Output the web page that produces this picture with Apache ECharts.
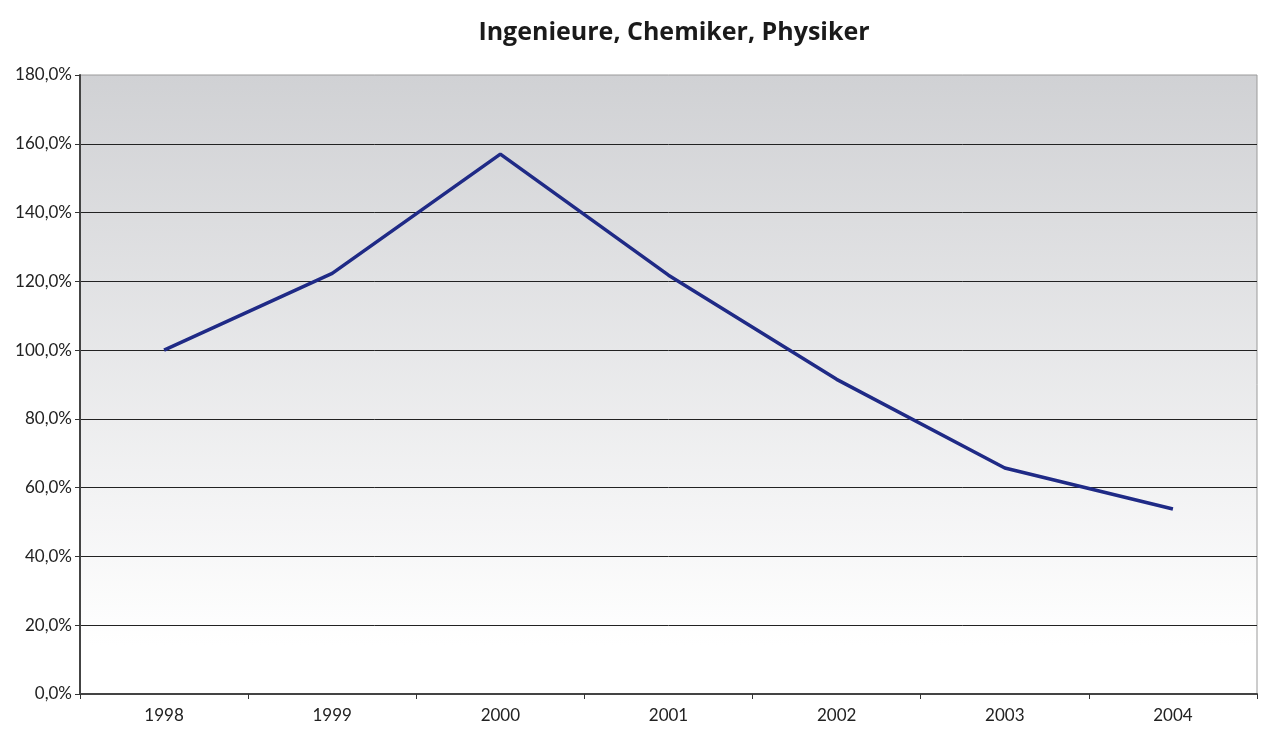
<!DOCTYPE html>
<html>
<head>
<meta charset="utf-8">
<script src="https://cdn.jsdelivr.net/npm/echarts@6/dist/echarts.min.js"></script>
<style>
  html, body { margin: 0; padding: 0; background: #fff; }
  #chart { width: 1261px; height: 731px; }
</style>
</head>
<body>
<div id="chart"></div>
<script>
const years = ['1998', '1999', '2000', '2001', '2002', '2003', '2004']
const values = [100, 122.3, 157.0, 121.8, 91.5, 65.7, 53.8]
const yTicks = [0, 180, 20]  // min, max, interval

let chart = echarts.init(document.getElementById('chart'))
chart.setOption({
    title: {
        text: 'Ingenieure, Chemiker, Physiker',
        left: 669,
        textAlign: 'center',
        top: 15,
        textStyle: {
            fontFamily: 'Open Sans',
            fontWeight: 'bold',
            fontSize: 25,
            color: '#1a1a1a'
        }
    },
    grid: {
        left: 80,
        right: 4,
        top: 75,
        bottom: 37,
        show: true,
        borderColor: '#9a9a9a',
        borderWidth: 1,
        backgroundColor: {
            type: 'linear', x: 0, y: 0, x2: 0, y2: 1,
            colorStops: [
                { offset: 0, color: '#d0d1d4' },
                { offset: 0.92, color: '#ffffff' },
                { offset: 1, color: '#ffffff' }
            ]
        }
    },
    xAxis: {
        type: 'category',
        data: years,
        boundaryGap: true,
        axisLine: { lineStyle: { color: '#444', width: 2 } },
        axisTick: { show: true, length: 5, lineStyle: { color: '#333' } },
        axisLabel: { fontFamily: 'Lato', fontSize: 17, color: '#222', margin: 13 },
        splitLine: { show: false }
    },
    yAxis: {
        type: 'value',
        min: yTicks[0],
        max: yTicks[1],
        interval: yTicks[2],
        axisLine: { show: true, lineStyle: { color: '#444', width: 2 } },
        axisTick: { show: true, length: 5, lineStyle: { color: '#333' } },
        axisLabel: {
            fontFamily: 'Lato',
            fontSize: 17,
            color: '#222',
            margin: 8,
            formatter: v => v.toFixed(1).replace('.', ',') + '%'
        },
        splitLine: { show: true, showMaxLine: false, lineStyle: { color: '#222', width: 1 } }
    },
    series: [
        {
            type: 'line',
            data: values,
            symbol: 'none',
            lineStyle: { color: '#1f2a86', width: 3.5 },
            itemStyle: { color: '#1f2a86' },
            animation: false
        }
    ]
})
</script>
</body>
</html>
